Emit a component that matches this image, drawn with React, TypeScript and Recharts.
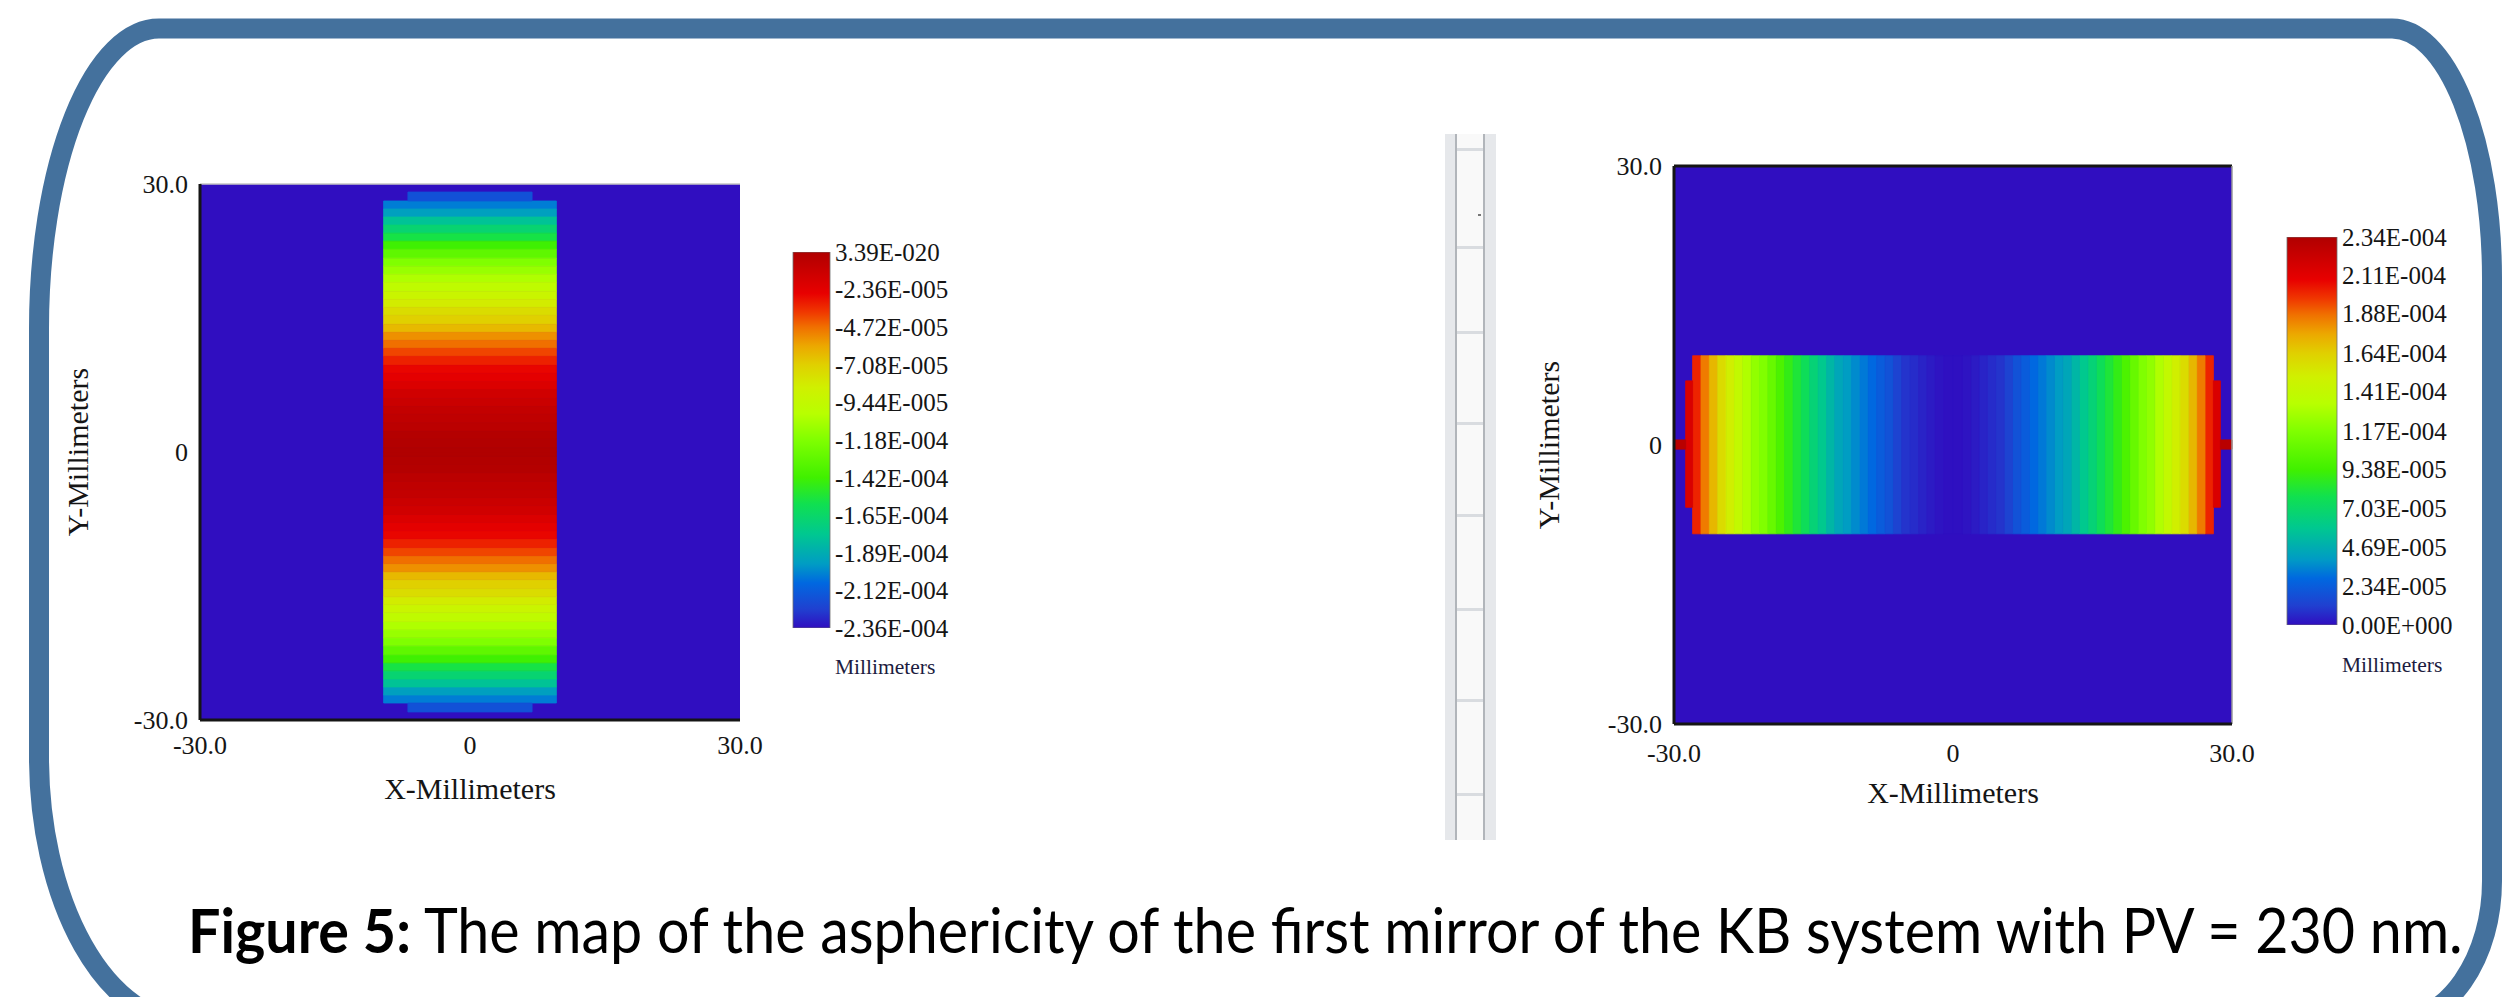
import React, { useLayoutEffect, useRef, useState } from 'react';
import {
  ComposedChart,
  XAxis,
  YAxis,
  Bar,
  ReferenceArea,
  ReferenceLine,
  Label,
} from 'recharts';

const SERIF = '"Liberation Serif", "Times New Roman", serif';
const INK = '#151515';
const PLOT_BG = '#300ec0';

// shared axis setup of both maps (mm)
const AXIS_DOMAIN: [number, number] = [-30, 30];
const AXIS_TICKS = [-30, 0, 30];
const AXIS_TICK_LABELS = ['-30.0', '0', '30.0'];

// jet-like colour scale (fraction from bottom -> colour)
const SCALE_STOPS = [0, 0.05, 0.12, 0.17, 0.25, 0.33, 0.4, 0.5, 0.57, 0.64, 0.7, 0.75, 0.8, 0.84, 0.89, 1];
const SCALE_COLORS = [
  '#300ec0', '#2040d0', '#0068e0', '#009cc4', '#00c890', '#10e050', '#40f000', '#80ff00',
  '#b8ff00', '#d0f000', '#e0d000', '#eca800', '#f07000', '#f03800', '#e80000', '#b00000',
];

// ---- left map: first mirror, bands along Y ----
const LEFT_MIN = -2.36e-4;
const LEFT_MAX = 3.39e-20;
const LEFT_BAR_TICKS = [3.39e-20, -2.36e-5, -4.72e-5, -7.08e-5, -9.44e-5, -1.18e-4, -1.42e-4, -1.65e-4, -1.89e-4, -2.12e-4, -2.36e-4];
const LEFT_BAR_LABELS = ['3.39E-020', '-2.36E-005', '-4.72E-005', '-7.08E-005', '-9.44E-005', '-1.18E-004', '-1.42E-004', '-1.65E-004', '-1.89E-004', '-2.12E-004', '-2.36E-004'];
const LEFT_STRIPE_X = [-9.6, 9.6];
// |y| band edges, outer to centre
const LEFT_BAND_EDGES = [28.1, 27.2, 26.3, 25.4, 24.5, 23.6, 22.7, 21.7, 20.8, 19.9, 19.0, 18.0, 17.1, 16.2, 15.3, 14.3, 13.4, 12.5, 11.6, 10.7, 9.7, 8.8, 7.9, 7.0, 6.0, 5.1, 4.2, 3.3, 2.3, 1.4, 0.5, 0];
const LEFT_BAND_VALUES = [
  -2.03e-4, -1.94e-4, -1.79e-4, -1.68e-4, -1.56e-4, -1.42e-4, -1.3e-4, -1.18e-4, -1.11e-4, -1.04e-4,
  -9.7e-5, -9.0e-5, -8.3e-5, -7.6e-5, -7.1e-5, -6.4e-5, -5.4e-5, -4.7e-5, -4.0e-5, -3.3e-5,
  -2.7e-5, -2.4e-5, -2.0e-5, -1.5e-5, -1.2e-5, -9e-6, -7e-6, -5e-6, -2e-6, -1e-6, 0,
];
const LEFT_CAP_X = [-6.9, 6.9];
const LEFT_CAP_Y = [28.1, 29.1];
const LEFT_CAP_VALUE = -2.17e-4;

// ---- right map: bands along X ----
const RIGHT_MIN = 0;
const RIGHT_MAX = 2.34e-4;
const RIGHT_BAR_TICKS = [2.34e-4, 2.11e-4, 1.88e-4, 1.64e-4, 1.41e-4, 1.17e-4, 9.38e-5, 7.03e-5, 4.69e-5, 2.34e-5, 0];
const RIGHT_BAR_LABELS = ['2.34E-004', '2.11E-004', '1.88E-004', '1.64E-004', '1.41E-004', '1.17E-004', '9.38E-005', '7.03E-005', '4.69E-005', '2.34E-005', '0.00E+000'];
const RIGHT_STRIPE_Y = [-9.55, 9.6];
// |x| band edges, outer to centre
const RIGHT_BAND_EDGES = [28.0, 27.1, 26.2, 25.3, 24.4, 23.5, 22.6, 21.7, 20.8, 19.9, 19.0, 18.1, 17.2, 16.3, 15.4, 14.5, 13.6, 12.7, 11.8, 10.9, 10.0, 9.1, 8.2, 7.3, 6.4, 5.5, 4.6, 3.7, 2.8, 1.9, 1.0, 0];
const RIGHT_BAND_VALUES = [
  2.01e-4, 1.85e-4, 1.71e-4, 1.59e-4, 1.5e-4, 1.4e-4, 1.31e-4, 1.22e-4, 1.17e-4, 1.08e-4,
  9.8e-5, 8.9e-5, 8.2e-5, 7.5e-5, 6.6e-5, 5.9e-5, 5.1e-5, 4.4e-5, 4.0e-5, 3.6e-5,
  3.2e-5, 2.8e-5, 2.3e-5, 1.9e-5, 1.3e-5, 9e-6, 7e-6, 5e-6, 3e-6, 1.4e-6, 5e-7,
];
const RIGHT_CAP_X = [28.0, 28.75];
const RIGHT_CAP_Y = [-6.7, 6.9];
const RIGHT_CAP_VALUE = 2.15e-4;
const RIGHT_TAB_X = [28.75, 30];
const RIGHT_TAB_Y = [-0.45, 0.55];
const RIGHT_TAB_VALUE = 2.3e-4;

const CAPTION_BOLD = 'Figure 5:';
const CAPTION_TEXT = ' The map of the asphericity of the first mirror of the KB system with PV = 230 nm.';
const CAPTION_WIDTH = 2275;

type Cell = { x1: number; x2: number; y1: number; y2: number; value: number };

const hexToRgb = (h: string) => [1, 3, 5].map((i) => parseInt(h.slice(i, i + 2), 16));

function colorFor(value: number, min: number, max: number) {
  const t = Math.max(0, Math.min(1, (value - min) / (max - min)));
  let i = 0;
  while (i < SCALE_STOPS.length - 2 && t > SCALE_STOPS[i + 1]) i++;
  const f = (t - SCALE_STOPS[i]) / (SCALE_STOPS[i + 1] - SCALE_STOPS[i]);
  const a = hexToRgb(SCALE_COLORS[i]);
  const b = hexToRgb(SCALE_COLORS[i + 1]);
  const c = a.map((v, k) => Math.round(v + (b[k] - v) * f));
  return `rgb(${c[0]},${c[1]},${c[2]})`;
}

function leftCells(): Cell[] {
  const cells: Cell[] = [];
  LEFT_BAND_VALUES.forEach((value, i) => {
    const outer = LEFT_BAND_EDGES[i];
    const inner = LEFT_BAND_EDGES[i + 1];
    cells.push({ x1: LEFT_STRIPE_X[0], x2: LEFT_STRIPE_X[1], y1: inner, y2: outer, value });
    cells.push({ x1: LEFT_STRIPE_X[0], x2: LEFT_STRIPE_X[1], y1: -outer, y2: -inner, value });
  });
  cells.push({ x1: LEFT_CAP_X[0], x2: LEFT_CAP_X[1], y1: LEFT_CAP_Y[0], y2: LEFT_CAP_Y[1], value: LEFT_CAP_VALUE });
  cells.push({ x1: LEFT_CAP_X[0], x2: LEFT_CAP_X[1], y1: -LEFT_CAP_Y[1], y2: -LEFT_CAP_Y[0], value: LEFT_CAP_VALUE });
  return cells;
}

function rightCells(): Cell[] {
  const cells: Cell[] = [];
  RIGHT_BAND_VALUES.forEach((value, i) => {
    const outer = RIGHT_BAND_EDGES[i];
    const inner = RIGHT_BAND_EDGES[i + 1];
    cells.push({ x1: -outer, x2: -inner, y1: RIGHT_STRIPE_Y[0], y2: RIGHT_STRIPE_Y[1], value });
    cells.push({ x1: inner, x2: outer, y1: RIGHT_STRIPE_Y[0], y2: RIGHT_STRIPE_Y[1], value });
  });
  [1, -1].forEach((s) => {
    cells.push({ x1: s * RIGHT_CAP_X[0], x2: s * RIGHT_CAP_X[1], y1: RIGHT_CAP_Y[0], y2: RIGHT_CAP_Y[1], value: RIGHT_CAP_VALUE });
    cells.push({ x1: s * RIGHT_TAB_X[0], x2: s * RIGHT_TAB_X[1], y1: RIGHT_TAB_Y[0], y2: RIGHT_TAB_Y[1], value: RIGHT_TAB_VALUE });
  });
  return cells;
}

const tickStyle = { fontSize: 26, fill: INK, fontFamily: SERIF };
const fmtAxis = (v: number) => AXIS_TICK_LABELS[AXIS_TICKS.indexOf(v)] ?? String(v);

interface MapProps {
  left: number;
  top: number;
  width: number;
  height: number;
  margin: { top: number; right: number; bottom: number; left: number };
  cells: Cell[];
  min: number;
  max: number;
  yTitleDx: number;
  xTickMargin: number;
  framed: boolean;
}

function MapChart({ left, top, width, height, margin, cells, min, max, yTitleDx, xTickMargin, framed }: MapProps) {
  return (
    <div style={{ position: 'absolute', left, top }}>
      <ComposedChart width={width} height={height} margin={margin}>
        <ReferenceArea x1={-30} x2={30} y1={-30} y2={30} fill={PLOT_BG} fillOpacity={1} stroke="none" />
        {cells.map((c, i) => {
          const col = colorFor(c.value, min, max);
          return (
            <ReferenceArea
              key={i}
              x1={c.x1}
              x2={c.x2}
              y1={c.y1}
              y2={c.y2}
              fill={col}
              fillOpacity={1}
              stroke={col}
              strokeWidth={0.8}
            />
          );
        })}
        <ReferenceLine y={30} stroke={framed ? INK : '#c4c4c4'} strokeWidth={framed ? 3 : 1.5} />
        {framed && <ReferenceLine x={30} stroke="#9a9a9a" strokeWidth={1.5} />}
        <XAxis
          type="number"
          dataKey="x"
          domain={AXIS_DOMAIN}
          ticks={AXIS_TICKS}
          interval={0}
          allowDataOverflow
          tickFormatter={fmtAxis}
          axisLine={{ stroke: INK, strokeWidth: 3 }}
          tickLine={false}
          tickSize={0}
          tickMargin={xTickMargin}
          height={80}
          tick={tickStyle}
        >
          <Label
            content={(p: any) => (
              <text
                x={p.viewBox.x + p.viewBox.width / 2}
                y={p.viewBox.y + 79}
                textAnchor="middle"
                fontFamily={SERIF}
                fontSize={30}
                fill={INK}
              >
                X-Millimeters
              </text>
            )}
          />
        </XAxis>
        <YAxis
          type="number"
          dataKey="y"
          domain={AXIS_DOMAIN}
          ticks={AXIS_TICKS}
          interval={0}
          allowDataOverflow
          tickFormatter={fmtAxis}
          axisLine={{ stroke: INK, strokeWidth: 3 }}
          tickLine={false}
          tickSize={0}
          tickMargin={12}
          width={140}
          tick={tickStyle}
        >
          <Label
            content={(p: any) => {
              const cx = p.viewBox.x + yTitleDx;
              const cy = p.viewBox.y + p.viewBox.height / 2;
              return (
                <text
                  x={cx}
                  y={cy}
                  transform={`rotate(-90 ${cx} ${cy})`}
                  textAnchor="middle"
                  dominantBaseline="central"
                  fontFamily={SERIF}
                  fontSize={30}
                  fill={INK}
                >
                  Y-Millimeters
                </text>
              );
            }}
          />
        </YAxis>
      </ComposedChart>
    </div>
  );
}

interface BarProps {
  left: number;
  top: number;
  width: number;
  height: number;
  margin: { top: number; right: number; bottom: number; left: number };
  min: number;
  max: number;
  ticks: number[];
  labels: string[];
  gradId: string;
  unitDy: number;
}

function ColorBar({ left, top, width, height, margin, min, max, ticks, labels, gradId, unitDy }: BarProps) {
  const data = [{ name: 'scale', span: [min, max] }];
  return (
    <div style={{ position: 'absolute', left, top }}>
      <ComposedChart width={width} height={height} data={data} margin={margin} barCategoryGap={0}>
        <defs>
          <linearGradient id={gradId} x1="0" y1="1" x2="0" y2="0">
            {SCALE_STOPS.map((s, i) => (
              <stop key={i} offset={s} stopColor={SCALE_COLORS[i]} />
            ))}
          </linearGradient>
        </defs>
        <XAxis dataKey="name" type="category" tick={false} axisLine={false} tickLine={false} height={50}>
          <Label
            content={(p: any) => (
              <text
                x={p.viewBox.x + p.viewBox.width + 5}
                y={p.viewBox.y + unitDy}
                fontFamily={SERIF}
                fontSize={21.5}
                fill="#1c1c40"
              >
                Millimeters
              </text>
            )}
          />
        </XAxis>
        <YAxis
          orientation="right"
          type="number"
          domain={[min, max]}
          allowDataOverflow
          ticks={ticks}
          interval={0}
          tickFormatter={(v: number, i: number) => labels[ticks.indexOf(v)] ?? labels[i]}
          axisLine={false}
          tickLine={false}
          tickSize={0}
          tickMargin={5}
          width={140}
          tick={{ fontSize: 25, fill: INK, fontFamily: SERIF }}
        />
        <Bar dataKey="span" fill={`url(#${gradId})`} stroke="#707070" strokeWidth={0.8} isAnimationActive={false} />
      </ComposedChart>
    </div>
  );
}

// grey scroll-bar strip between the two screenshots
const RULE_ROWS = [148, 246, 331, 422, 514, 608, 699, 793];

function ScrollStrip() {
  return (
    <div style={{ position: 'absolute', left: 1445, top: 134, width: 51, height: 706, background: '#e6e8eb' }}>
      <div style={{ position: 'absolute', left: 12, top: 0, width: 26, height: 706, background: '#f9f9f9' }} />
      <div style={{ position: 'absolute', left: 10, top: 0, width: 2, height: 706, background: '#b1b5ba' }} />
      <div style={{ position: 'absolute', left: 38, top: 0, width: 2, height: 706, background: '#b1b5ba' }} />
      {RULE_ROWS.map((y) => (
        <div
          key={y}
          style={{ position: 'absolute', left: 12, top: y - 134, width: 26, height: 3, background: '#d9dce0' }}
        />
      ))}
      <div style={{ position: 'absolute', left: 33, top: 80, width: 3, height: 2, background: '#777' }} />
    </div>
  );
}

// caption squeezed horizontally to the width it has in the figure
function Caption() {
  const ref = useRef<SVGTextElement>(null);
  const [sx, setSx] = useState(0.84);
  useLayoutEffect(() => {
    if (ref.current) {
      const w = ref.current.getComputedTextLength();
      if (w > 0) setSx(CAPTION_WIDTH / w);
    }
  }, []);
  return (
    <g transform={`translate(188 953) scale(${sx} 1)`}>
      <text ref={ref} x={0} y={0} fontFamily="Lato, 'Open Sans', sans-serif" fontSize={62} fill="#000">
        <tspan fontWeight="bold">{CAPTION_BOLD}</tspan>
        {CAPTION_TEXT}
      </text>
    </g>
  );
}

export default function App() {
  const lc = leftCells();
  const rc = rightCells();
  return (
    <div
      style={{
        position: 'absolute',
        left: 0,
        top: 0,
        width: 2505,
        height: 997,
        overflow: 'hidden',
        background: '#ffffff',
      }}
    >
      <svg width={2505} height={997} style={{ position: 'absolute', left: 0, top: 0 }}>
        <path
          d="M159 28.5 H2392 A100 250 0 0 1 2492 278.5 V881 A100 142 0 0 1 2392 1023 H189 A150 266 0 0 1 39 757 V328.5 A120 300 0 0 1 159 28.5 Z"
          fill="none"
          stroke="#44719d"
          strokeWidth={20}
        />
        <Caption />
      </svg>

      <ScrollStrip />

      <MapChart
        left={0}
        top={0}
        width={800}
        height={830}
        margin={{ top: 184, right: 60, bottom: 30, left: 60 }}
        cells={lc}
        min={LEFT_MIN}
        max={LEFT_MAX}
        yTitleDx={17}
        xTickMargin={16}
        framed={false}
      />
      <ColorBar
        left={780}
        top={230}
        width={200}
        height={460}
        margin={{ top: 22, right: 10, bottom: 12, left: 13 }}
        min={LEFT_MIN}
        max={LEFT_MAX}
        ticks={LEFT_BAR_TICKS}
        labels={LEFT_BAR_LABELS}
        gradId="leftScale"
        unitDy={46}
      />

      <MapChart
        left={1500}
        top={0}
        width={760}
        height={840}
        margin={{ top: 166, right: 28, bottom: 36, left: 34 }}
        cells={rc}
        min={RIGHT_MIN}
        max={RIGHT_MAX}
        yTitleDx={14}
        xTickMargin={20}
        framed={true}
      />
      <ColorBar
        left={2270}
        top={215}
        width={220}
        height={470}
        margin={{ top: 22, right: 13, bottom: 10, left: 17 }}
        min={RIGHT_MIN}
        max={RIGHT_MAX}
        ticks={RIGHT_BAR_TICKS}
        labels={RIGHT_BAR_LABELS}
        gradId="rightScale"
        unitDy={47}
      />
    </div>
  );
}
